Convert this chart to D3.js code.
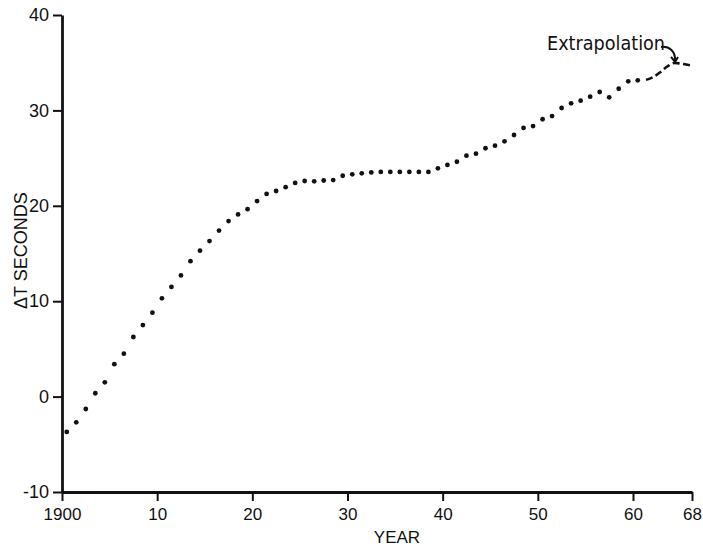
<!doctype html>
<html lang="en">
<head>
  <meta charset="utf-8">
  <title>Delta T 1900-1968</title>
  <style>
    body { margin: 0; background: white; }
    svg { display: block; }
    .axis text { font: 17px "Liberation Sans", Arial, sans-serif; fill: #111; }
    .axis path, .axis line { stroke: #111; }
  </style>
</head>
<body>
  <svg id="svg" width="703" height="548"></svg>

  <script src="https://cdn.jsdelivr.net/npm/d3@7"></script>
  <script>
    // yearly values, plotted at mid-year
    var years = d3.range(1900, 1961);
    var delta_t = [
      -3.7, -2.7, -1.3, 0.35, 1.5, 3.4, 4.5, 6.25, 7.5, 8.8,
      10.3, 11.5, 12.7, 14.2, 15.3, 16.3, 17.4, 18.4, 19.1, 19.65,
      20.5, 21.25, 21.55, 21.95, 22.4, 22.6, 22.57, 22.65, 22.7, 23.15,
      23.3, 23.4, 23.5, 23.55, 23.55, 23.55, 23.55, 23.55, 23.55, 23.93,
      24.28, 24.62, 25.25, 25.46, 26.03, 26.3, 26.76, 27.42, 28.16, 28.36,
      29.07, 29.41, 30.25, 30.74, 31.02, 31.44, 31.93, 31.37, 32.27, 33.05,
      33.15
    ];

    // dashed extrapolation
    var extrap_years = [1961.5, 1962.5, 1963.5, 1964.5, 1965.5, 1966.5, 1967.5, 1968];
    var extrap_values = [33.2, 33.5, 34.0, 34.6, 34.97, 34.9, 34.76, 34.68];

    var x_ticks = [1900, 1910, 1920, 1930, 1940, 1950, 1960, 1968];
    var x_tick_labels = ["1900", "10", "20", "30", "40", "50", "60", "68"];
    var y_ticks = [-10, 0, 10, 20, 30, 40];

    var svg = d3.select("#svg");
    var ink = "#111";

    // the original's last stretch (61-68) is drawn a bit compressed
    var x = d3.scaleLinear().domain([1900, 1961, 1968]).range([62, 642.5, 692]);
    var y = d3.scaleLinear().domain([-10, 40]).range([492, 15]);

    var x_axis = svg.append("g")
      .attr("class", "axis")
      .attr("transform", "translate(0," + y(-10) + ")")
      .call(d3.axisBottom(x)
        .tickValues(x_ticks)
        .tickFormat(function(d, i) { return x_tick_labels[i]; })
        .tickSize(9)
        .tickSizeOuter(0)
        .tickPadding(7));

    var y_axis = svg.append("g")
      .attr("class", "axis")
      .attr("transform", "translate(" + x(1900) + ",0)")
      .call(d3.axisLeft(y)
        .tickValues(y_ticks)
        .tickFormat(function(d) { return String(d); })
        .tickSize(9)
        .tickSizeOuter(0)
        .tickPadding(4));

    svg.selectAll(".axis path").attr("stroke-width", 2.8);
    svg.selectAll(".axis line").attr("stroke-width", 2);
    y_axis.selectAll("text").style("font-size", "18px");

    svg.append("text")
      .attr("x", x(1935.2))
      .attr("y", 543)
      .attr("text-anchor", "middle")
      .attr("fill", ink)
      .style("font", "17px 'Liberation Sans', Arial, sans-serif")
      .text("YEAR");

    svg.append("text")
      .attr("transform", "translate(27," + y(15.3) + ") rotate(-90)")
      .attr("text-anchor", "middle")
      .attr("fill", ink)
      .style("font", "18px 'Liberation Sans', Arial, sans-serif")
      .text("\u0394T SECONDS");

    svg.append("g")
      .selectAll("circle")
      .data(years)
      .join("circle")
      .attr("cx", function(d) { return x(d + 0.5); })
      .attr("cy", function(d, i) { return y(delta_t[i]); })
      .attr("r", 2.4)
      .attr("fill", ink);

    var extrap_line = d3.line()
      .x(function(d) { return x(d); })
      .y(function(d, i) { return y(extrap_values[i]); })
      .curve(d3.curveMonotoneX);

    svg.append("path")
      .attr("d", extrap_line(extrap_years))
      .attr("fill", "none")
      .attr("stroke", ink)
      .attr("stroke-width", 2.6)
      .attr("stroke-dasharray", "7,3.5");

    // label and curved arrow
    svg.append("text")
      .attr("x", 547)
      .attr("y", 50)
      .attr("fill", ink)
      .attr("textLength", 118)
      .attr("lengthAdjust", "spacingAndGlyphs")
      .style("font", "19px 'DejaVu Sans Condensed', 'DejaVu Sans', sans-serif")
      .text("Extrapolation");

    var tip_x = x(1965.6), tip_y = y(34.97) - 1;
    svg.append("path")
      .attr("d", "M" + (tip_x - 14) + "," + (tip_y - 15) +
        " C" + (tip_x - 6) + "," + (tip_y - 16) + " " + (tip_x + 1) + "," + (tip_y - 11) + " " + tip_x + "," + tip_y)
      .attr("fill", "none")
      .attr("stroke", ink)
      .attr("stroke-width", 2);

    svg.append("path")
      .attr("d", "M" + (tip_x - 4) + "," + (tip_y - 5) + " L" + tip_x + "," + tip_y + " L" + (tip_x + 3) + "," + (tip_y - 5))
      .attr("fill", "none")
      .attr("stroke", ink)
      .attr("stroke-width", 2);
  </script>
</body>
</html>
